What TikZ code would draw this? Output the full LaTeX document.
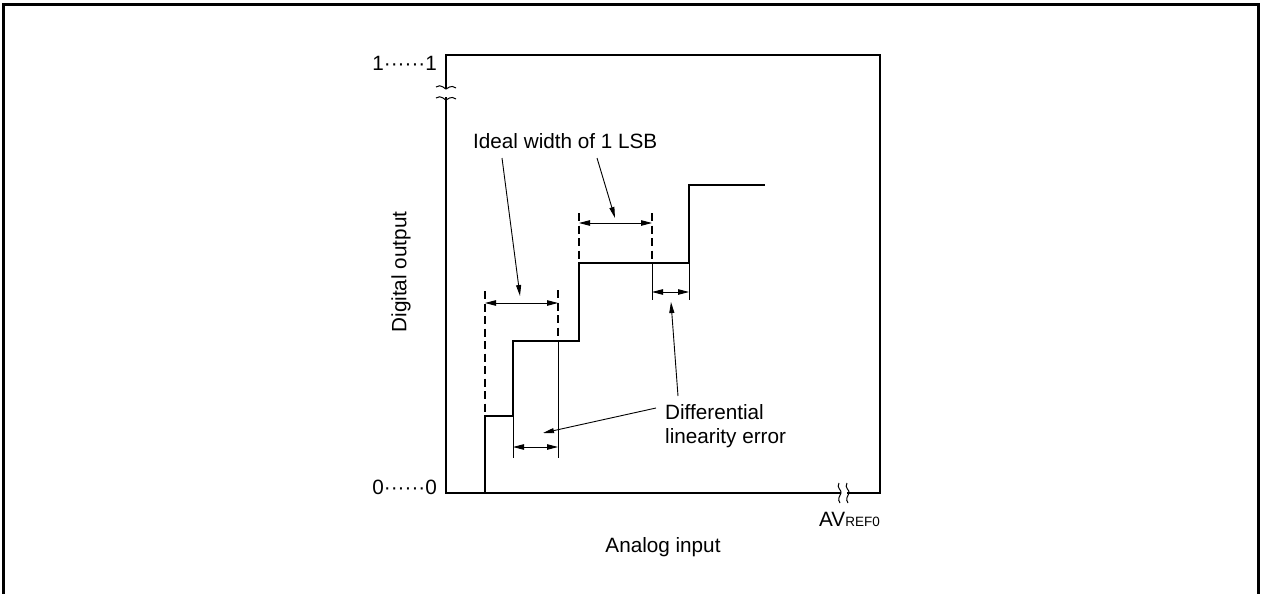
\documentclass[tikz,border=0pt]{standalone}
\usepackage{fontspec}
\setmainfont{Liberation Sans}
\usetikzlibrary{arrows.meta}
\begin{document}
\begin{tikzpicture}[x=1pt,y=-1pt,
  lbl/.style={inner sep=0pt,font=\fontsize{20.7}{24}\selectfont},
  thick box/.style={line width=2.6pt},
  stair/.style={line width=2.8pt,line join=miter},
  dashv/.style={line width=2.6pt,dash pattern=on 8pt off 4.5pt},
  thinl/.style={line width=0.9pt},
  dim/.style={line width=0.9pt,{Triangle[length=11pt,width=5.5pt]}-{Triangle[length=11pt,width=5.5pt]}},
  ptr/.style={line width=0.9pt,-{Triangle[length=11pt,width=5pt]}}]
\useasboundingbox (0,0) rectangle (1262,594);
% outer frame
\draw[line width=3pt] (3,594) -- (3,5) -- (1258,5) -- (1258,594);
% plot box
\draw[thick box] (446,55) rectangle (880,493);
% break on left axis
\fill[white] (438,89) rectangle (454,97);
\draw[line width=1pt] (436,87) .. controls (441,83) and (446,90) .. (446,89) .. controls (447,89) and (451,84) .. (456,88);
\draw[line width=1pt] (436,98) .. controls (441,94) and (446,101) .. (446,100) .. controls (447,100) and (451,95) .. (456,99);
% break on bottom axis
\fill[white] (841,489) rectangle (847,497);
\draw[line width=1pt] (839,483) .. controls (836,488) and (842,490) .. (841,493) .. controls (840,496) and (837,499) .. (840,503);
\draw[line width=1pt] (847,483) .. controls (844,488) and (850,490) .. (849,493) .. controls (848,496) and (845,499) .. (848,503);
% axis labels
\node[lbl,anchor=base east] (one) at (437,71) {1······1};
\node[lbl,anchor=base east] (zero) at (437,494) {0······0};
\node[lbl,anchor=base east] (avref) at (880,526) {AV{\fontsize{13.5}{15}\selectfont REF0}};
\node[lbl,anchor=base] (xlab) at (663,552) {Analog input};
\node[lbl,rotate=90] (ylab) at (401,272) {Digital output};
% staircase
\draw[stair] (485,493) -- (485,416) -- (513,416) -- (513,341) -- (579,341) -- (579,263) -- (689,263) -- (689,185) -- (765,185);
% dashed ideal boundaries
\draw[dashv] (485,291) -- (485,416);
\draw[dashv] (558,290) -- (558,341);
\draw[dashv] (579,213) -- (579,263);
\draw[dashv] (652,213) -- (652,263);
% thin extension lines
\draw[thinl] (513,416) -- (513,458);
\draw[thinl] (558,341) -- (558,458);
\draw[thinl] (652,263) -- (652,300);
\draw[thinl] (689,263) -- (689,300);
% dimension arrows
\coordinate (d1a) at (485,303); \coordinate (d1b) at (558,303);
\coordinate (d2a) at (513,447); \coordinate (d2b) at (558,447);
\coordinate (d3a) at (579,223); \coordinate (d3b) at (652,223);
\coordinate (d4a) at (652,292); \coordinate (d4b) at (689,292);
\draw[dim] (d1a) -- (d1b);
\draw[dim] (d2a) -- (d2b);
\draw[dim] (d3a) -- (d3b);
\draw[dim] (d4a) -- (d4b);
% labels and pointers
\node[lbl,anchor=base west] (ideal) at (473,148) {Ideal width of 1 LSB};
\node[lbl,anchor=base west,align=left] (dle) at (665,443) {Differential\\linearity error};
\coordinate (p1s) at (502,158); \coordinate (p1e) at (520,296);
\coordinate (p2s) at (597,158); \coordinate (p2e) at (615,218);
\coordinate (p3s) at (656,408); \coordinate (p3e) at (543,433);
\coordinate (p4s) at (678,396); \coordinate (p4e) at (671,302);
\draw[ptr] (p1s) -- (p1e);
\draw[ptr] (p2s) -- (p2e);
\draw[ptr] (p3s) -- (p3e);
\draw[ptr] (p4s) -- (p4e);
\end{tikzpicture}
\end{document}
